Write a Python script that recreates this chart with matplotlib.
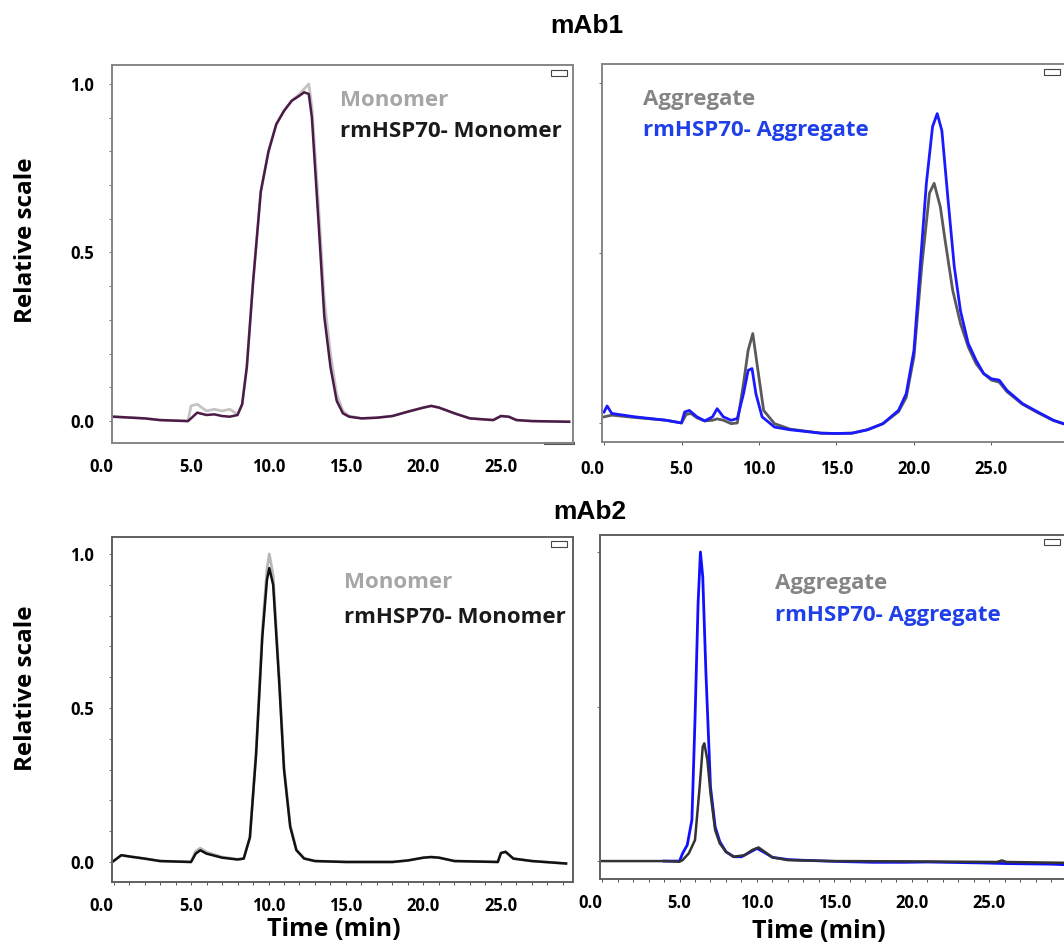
import numpy as np
import matplotlib.pyplot as plt
from matplotlib.patches import Rectangle
from matplotlib.transforms import ScaledTranslation

plt.rcParams['font.family'] = ['Open Sans', 'DejaVu Sans']
plt.rcParams['font.weight'] = 'bold'

# ---- mAb1 monomer (top-left) ----
t_m1 = [0.0, 2.0, 3.0, 4.8, 5.0, 5.4, 6.0, 6.5, 7.0, 7.5, 8.0, 8.3, 8.6, 9.0, 9.5, 10.0, 10.5, 11.0,
        11.5, 12.0, 12.3, 12.6, 12.8, 13.2, 13.6, 14.0, 14.4, 14.8, 15.2, 16.0, 17.0, 18.0, 19.0, 20.0,
        20.5, 21.0, 22.0, 23.0, 24.5, 25.0, 25.5, 26.0, 27.0, 29.4]
rm_m1 = [0.013, 0.008, 0.003, 0.0, 0.008, 0.025, 0.018, 0.02, 0.015, 0.013, 0.018, 0.05, 0.16, 0.41,
         0.68, 0.8, 0.88, 0.92, 0.95, 0.965, 0.975, 0.97, 0.9, 0.61, 0.31, 0.16, 0.06, 0.023, 0.013,
         0.008, 0.01, 0.015, 0.028, 0.04, 0.045, 0.04, 0.023, 0.008, 0.003, 0.015, 0.013, 0.003, 0.0,
         -0.002]
mono_m1 = [0.013, 0.008, 0.003, 0.0, 0.045, 0.05, 0.03, 0.035, 0.03, 0.035, 0.02, 0.05, 0.16, 0.41,
           0.68, 0.8, 0.88, 0.92, 0.95, 0.97, 0.985, 1.0, 0.93, 0.66, 0.36, 0.2, 0.08, 0.03, 0.015,
           0.008, 0.01, 0.015, 0.028, 0.04, 0.045, 0.04, 0.023, 0.008, 0.003, 0.015, 0.013, 0.003, 0.0,
           -0.002]

# ---- mAb1 aggregate (top-right) ----
t_a1 = [0.0, 0.2, 0.5, 2.0, 4.0, 5.0, 5.2, 5.5, 6.0, 6.5, 7.0, 7.3, 7.7, 8.2, 8.6, 9.0, 9.3, 9.55,
        9.8, 10.2, 11.0, 12.0, 14.0, 15.0, 16.0, 17.0, 18.0, 19.0, 19.5, 20.0, 20.4, 20.8, 21.2, 21.5,
        21.8, 22.2, 22.6, 23.0, 23.5, 24.0, 24.5, 25.0, 25.5, 26.0, 27.0, 28.0, 29.0, 30.5]
rm_a1 = [0.032, 0.05, 0.028, 0.018, 0.008, 0.0, 0.032, 0.037, 0.018, 0.006, 0.018, 0.042, 0.018,
         0.008, 0.013, 0.086, 0.155, 0.16, 0.086, 0.018, -0.012, -0.02, -0.03, -0.031, -0.03, -0.02,
         -0.002, 0.037, 0.086, 0.214, 0.46, 0.705, 0.872, 0.91, 0.86, 0.656, 0.46, 0.33, 0.234, 0.185,
         0.145, 0.13, 0.126, 0.096, 0.057, 0.032, 0.008, -0.015]
t_a1g = [0.0, 0.5, 2.0, 4.0, 5.0, 5.3, 5.6, 6.0, 6.5, 7.0, 7.3, 7.7, 8.2, 8.6, 9.0, 9.3, 9.6, 9.9,
         10.3, 11.0, 12.0, 14.0, 15.0, 16.0, 17.0, 18.0, 19.0, 19.5, 20.0, 20.5, 21.0, 21.3, 21.7,
         22.0, 22.5, 23.0, 23.5, 24.0, 24.5, 25.0, 25.5, 26.0, 27.0, 28.0, 29.0, 30.5]
agg_a1 = [0.018, 0.023, 0.016, 0.008, 0.0, 0.025, 0.028, 0.015, 0.006, 0.008, 0.012, 0.008, -0.002,
          0.0, 0.116, 0.214, 0.263, 0.165, 0.037, -0.002, -0.018, -0.03, -0.031, -0.03, -0.02,
          -0.002, 0.033, 0.075, 0.195, 0.46, 0.676, 0.705, 0.636, 0.54, 0.39, 0.293, 0.224, 0.175,
          0.145, 0.126, 0.12, 0.092, 0.055, 0.03, 0.007, -0.015]

# ---- mAb2 monomer (bottom-left) ----
t_m2 = [0.0, 0.5, 1.0, 2.0, 3.0, 5.0, 5.3, 5.6, 6.0, 7.0, 8.0, 8.4, 8.8, 9.2, 9.6, 9.9, 10.05, 10.3,
        10.7, 11.0, 11.4, 11.8, 12.3, 13.0, 15.0, 18.0, 19.0, 20.0, 20.5, 21.0, 22.0, 24.8, 25.0, 25.3,
        25.8, 27.0, 29.2]
rm_m2 = [0.003, 0.022, 0.018, 0.011, 0.003, 0.0, 0.027, 0.038, 0.027, 0.014, 0.008, 0.011, 0.08,
         0.35, 0.73, 0.916, 0.954, 0.9, 0.575, 0.3, 0.114, 0.038, 0.011, 0.003, 0.0, 0.0, 0.005,
         0.014, 0.016, 0.014, 0.003, 0.0, 0.029, 0.033, 0.011, 0.003, -0.005]
mono_m2 = [0.003, 0.022, 0.018, 0.011, 0.003, 0.0, 0.035, 0.045, 0.032, 0.016, 0.009, 0.011, 0.08,
           0.36, 0.75, 0.95, 1.0, 0.93, 0.59, 0.31, 0.12, 0.04, 0.012, 0.003, 0.0, 0.0, 0.005,
           0.014, 0.016, 0.014, 0.003, 0.0, 0.029, 0.033, 0.011, 0.003, -0.005]

# ---- mAb2 aggregate (bottom-right) ----
t_a2b = [4.0, 5.0, 5.2, 5.5, 5.8, 6.0, 6.2, 6.35, 6.5, 6.7, 7.0, 7.3, 7.6, 8.0, 8.5, 9.0, 9.6, 10.0,
         10.4, 11.0, 12.0, 12.8, 15.0, 17.5, 19.5, 21.0, 24.5, 26.0, 29.0, 30.5]
rm_a2 = [0.0, 0.0, 0.025, 0.052, 0.133, 0.457, 0.835, 1.0, 0.92, 0.616, 0.24, 0.111, 0.063, 0.03,
         0.014, 0.014, 0.03, 0.041, 0.03, 0.012, 0.005, 0.003, -0.001, -0.004, -0.004, -0.003,
         -0.006, -0.008, -0.01, -0.013]
t_a2g = [0.0, 4.0, 5.0, 5.2, 5.6, 6.0, 6.3, 6.5, 6.6, 6.8, 7.0, 7.3, 7.6, 8.0, 8.5, 9.2, 9.7, 10.1,
         10.5, 11.0, 12.0, 15.0, 20.0, 25.5, 25.8, 26.1, 29.0, 30.5]
agg_a2 = [0.0, 0.0, -0.002, 0.003, 0.025, 0.068, 0.24, 0.37, 0.381, 0.327, 0.22, 0.1, 0.057, 0.03,
          0.014, 0.019, 0.036, 0.044, 0.03, 0.012, 0.003, 0.0, -0.001, -0.003, 0.002, -0.003,
          -0.005, -0.006]

ticks = [0, 5, 10, 15, 20, 25]
tick_labels = ['0.0', '5.0', '10.0', '15.0', '20.0', '25.0']

W, H = 1064, 948
fig = plt.figure(figsize=(W / 100, H / 100), dpi=100)


def shift(label, dx, dy):
    label.set_transform(label.get_transform() + ScaledTranslation(dx / 100, -dy / 100, fig.dpi_scale_trans))


def make_ax(left, top, right, bottom, xlim, ylim, left_col, lower, spine_col):
    ax = fig.add_axes([left / W, 1 - bottom / H, (right - left) / W, (bottom - top) / H])
    ax.set_xlim(*xlim)
    ax.set_ylim(*ylim)
    for s in ax.spines.values():
        s.set_color(spine_col)
        s.set_linewidth(1.4)
    ax.set_xticks(ticks)
    ax.set_xticklabels(tick_labels, fontsize=12, fontweight='bold')
    ax.get_xticklabels()[0].set_ha('right')
    ax.set_yticks([0, 0.5, 1.0])
    if lower:
        ax.set_xticks(np.arange(0, 30, 1), minor=True)
        ax.tick_params(axis='x', which='both', length=2.5, width=0.7, color='#555555', pad=8)
    else:
        ax.tick_params(axis='x', length=2.5 if not left_col else 0, width=0.7, color='#555555',
                       pad=10.5)
    if left_col:
        ax.set_yticks(np.arange(0, 1.01, 0.1), minor=True)
        ax.set_yticklabels(['0.0', '0.5', '1.0'], fontsize=12, fontweight='bold')
        shift(ax.get_yticklabels()[2], -19, -5)
    else:
        ax.set_yticklabels([])
    ax.tick_params(axis='y', which='both', length=2, width=0.6, color='#555555', pad=11)
    # small legend icon in the corner
    ax.add_patch(Rectangle((0.953, 0.972), 0.035, 0.016, transform=ax.transAxes, fill=False,
                           edgecolor='#444444', linewidth=0.8, clip_on=False))
    return ax


ax1 = make_ax(112, 65, 573, 443, (-0.1, 29.65), (-0.065, 1.056), True, False, '#858585')
ax1.plot(t_m1, mono_m1, color='#c4c4c4', lw=2.0)
ax1.plot(t_m1, rm_m1, color='#4b1a47', lw=1.8)
ax1.plot([0.94, 1.0], [0, 0], transform=ax1.transAxes, color='#555555', lw=2.2, clip_on=False)
ax1.text(0.495, 0.907, 'Monomer', transform=ax1.transAxes, color='#a6a6a6', fontsize=16,
         fontweight='bold', va='center')
ax1.text(0.495, 0.823, 'rmHSP70- Monomer', transform=ax1.transAxes, color='#1a1a1a', fontsize=16,
         fontweight='bold', va='center')

ax2 = make_ax(602, 64, 1066, 442, (-0.13, 29.81), (-0.056, 1.056), False, False, '#858585')
ax2.plot(t_a1g, agg_a1, color='#5a5a5a', lw=2.0)
ax2.plot(t_a1, rm_a1, color='#1a1aff', lw=2.0)
ax2.text(0.088, 0.907, 'Aggregate', transform=ax2.transAxes, color='#858585', fontsize=16,
         fontweight='bold', va='center')
ax2.text(0.088, 0.823, 'rmHSP70- Aggregate', transform=ax2.transAxes, color='#1f3fe8', fontsize=16,
         fontweight='bold', va='center')

ax3 = make_ax(112, 537, 573, 882, (-0.1, 29.65), (-0.065, 1.055), True, True, '#606060')
ax3.plot(t_m2, mono_m2, color='#b8b8b8', lw=2.0)
ax3.plot(t_m2, rm_m2, color='#111111', lw=1.8)
ax3.text(0.503, 0.867, 'Monomer', transform=ax3.transAxes, color='#a6a6a6', fontsize=16,
         fontweight='bold', va='center')
ax3.text(0.503, 0.768, 'rmHSP70- Monomer', transform=ax3.transAxes, color='#1a1a1a', fontsize=16,
         fontweight='bold', va='center')

ax4 = make_ax(600, 535, 1066, 879, (-0.13, 29.94), (-0.058, 1.055), False, True, '#606060')
ax4.plot(t_a2b, rm_a2, color='#1010ff', lw=2.0)
ax4.plot(t_a2g, agg_a2, color='#333333', lw=1.8)
ax4.text(0.376, 0.86, 'Aggregate', transform=ax4.transAxes, color='#858585', fontsize=16,
         fontweight='bold', va='center')
ax4.text(0.376, 0.765, 'rmHSP70- Aggregate', transform=ax4.transAxes, color='#1f3fe8', fontsize=16,
         fontweight='bold', va='center')

fig.text(334 / W, 1 - 930 / H, 'Time (min)', ha='center', va='center', fontsize=18,
         fontweight='bold')
fig.text(819 / W, 1 - 932 / H, 'Time (min)', ha='center', va='center', fontsize=18,
         fontweight='bold')
fig.text(26 / W, 1 - 240 / H, 'Relative scale', ha='center', va='center', rotation=90,
         fontsize=17.5, fontweight='bold')
fig.text(26 / W, 1 - 688 / H, 'Relative scale', ha='center', va='center', rotation=90,
         fontsize=17.5, fontweight='bold')

fig.text(587 / W, 1 - 26 / H, 'mAb1', ha='center', va='center', fontsize=19, fontweight='bold',
         family=['Liberation Sans', 'DejaVu Sans'])
fig.text(590 / W, 1 - 512 / H, 'mAb2', ha='center', va='center', fontsize=19, fontweight='bold',
         family=['Liberation Sans', 'DejaVu Sans'])

fig.savefig('out.png', dpi=100)
